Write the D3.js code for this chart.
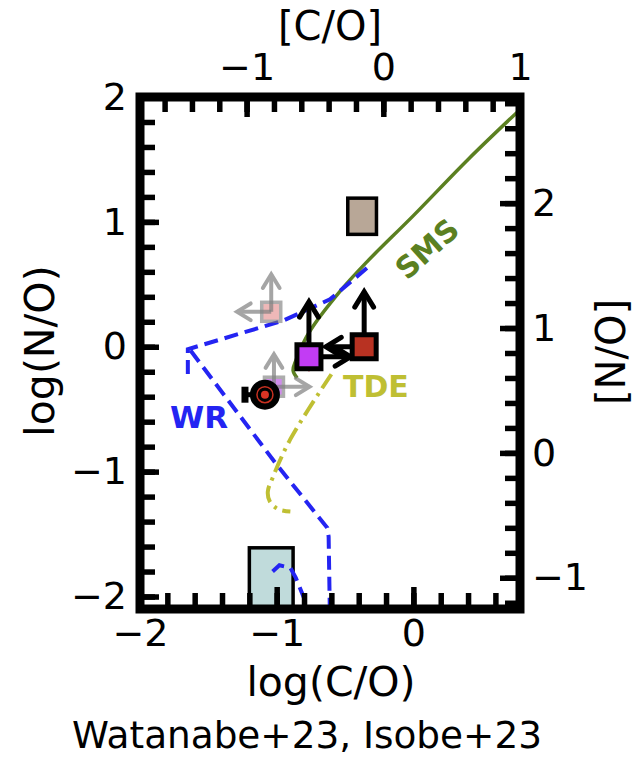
<!DOCTYPE html>
<html>
<head>
<meta charset="utf-8">
<script src="https://cdn.jsdelivr.net/npm/d3@7"></script>
<style>
  body { margin: 0; background: #fff; }
  text { font-family: "DejaVu Sans", sans-serif; }
</style>
</head>
<body>
<div id="chart"></div>
<script>
// ranges and solar offsets
const xDomain = [-2, 0.78];
const yDomain = [-2.1, 2];
const solarCO = -0.22;
const solarNO = -0.85;

const xMajor = [-2, -1, 0];
const yMajor = [-2, -1, 0, 1, 2];
const coMajor = [-1, 0, 1];
const noMajor = [-1, 0, 1, 2];

// model tracks (log C/O, log N/O)
const smsTrack = [[-0.85, -0.25], [-0.88, -0.19], [-0.86, -0.11], [-0.76, 0.12], [-0.54, 0.44], [-0.34, 0.68], [0, 1.05], [0.4, 1.5], [0.8, 1.92]];
const wrTrackA = [[-0.34, 0.63], [-0.61, 0.38], [-0.95, 0.21], [-1.65, -0.02], [-1.65, -0.23]];
const wrTrackB = [[-1.63, -0.03], [-1.01, -0.93], [-0.63, -1.45], [-0.62, -1.52], [-0.61, -2.2]];
const wrTrackC = [[-1.03, -1.80], [-0.98, -1.75], [-0.90, -1.77], [-0.86, -1.85], [-0.73, -2.2]];
const tdeTrack = [[-0.6, -0.22], [-0.9, -0.74], [-1.03, -1.05], [-1.065, -1.16], [-1.05, -1.24], [-0.99, -1.30], [-0.9, -1.32]];

// range boxes [x0, x1, y0, y1]
const tanBox = [-0.48, -0.27, 0.9, 1.19];
const tealBox = [-1.2, -0.88, -2.3, -1.61];

// points: x, y, arrow ends
const faded1 = { x: -1.04, y: 0.28, up: 0.58, left: -1.29 };
const faded2 = { x: -1.02, y: -0.32, up: -0.06, right: -0.76 };
const magenta = { x: -0.764, y: -0.08, up: 0.36, right: -0.46, errLow: -0.2 };
const red = { x: -0.36, y: 0.0, up: 0.44, left: -0.64 };
const target = { x: -1.086, y: -0.384, left: -1.232 };

const W = 636, H = 757;
const svg = d3.select('#chart').append('svg').attr('width', W).attr('height', H);
svg.append('rect').attr('width', W).attr('height', H).attr('fill', '#fff');

const x = d3.scaleLinear().domain(xDomain).range([140, 520]);
const y = d3.scaleLinear().domain(yDomain).range([609, 97]);
const xTop = d3.scaleLinear().domain(xDomain.map((d) => d - solarCO)).range([140, 520]);
const yRight = d3.scaleLinear().domain(yDomain.map((d) => d - solarNO)).range([609, 97]);

svg.append('clipPath').attr('id', 'clip')
  .append('rect').attr('x', 140).attr('y', 97).attr('width', 380).attr('height', 512);

const plot = svg.append('g').attr('clip-path', 'url(#clip)');

const box = (b, fill) =>
  plot.append('rect')
    .attr('x', x(b[0])).attr('y', y(b[3]))
    .attr('width', x(b[1]) - x(b[0])).attr('height', y(b[2]) - y(b[3]))
    .attr('fill', fill).attr('stroke', '#000').attr('stroke-width', 3.5);

box(tanBox, '#b8a797');
box(tealBox, '#c0dbdb');

const line = d3.line().x((d) => x(d[0])).y((d) => y(d[1]));
const lineC = d3.line().x((d) => x(d[0])).y((d) => y(d[1])).curve(d3.curveCatmullRom);

plot.append('path').attr('d', lineC(smsTrack)).attr('fill', 'none')
  .attr('stroke', '#5b8021').attr('stroke-width', 3.5);

[wrTrackA, wrTrackB, wrTrackC].forEach((t) =>
  plot.append('path').attr('d', line(t)).attr('fill', 'none')
    .attr('stroke', '#2424f2').attr('stroke-width', 4)
    .attr('stroke-dasharray', '14,7'));

plot.append('path').attr('d', lineC(tdeTrack)).attr('fill', 'none')
  .attr('stroke', '#bfbf33').attr('stroke-width', 4)
  .attr('stroke-dasharray', '17,6,3,6');

const arrow = (x0, y0, x1, y1, color, w, head, op) => {
  const g = plot.append('g').attr('opacity', op);
  const px0 = x(x0), py0 = y(y0), px1 = x(x1), py1 = y(y1);
  const a = Math.atan2(py1 - py0, px1 - px0);
  g.append('line').attr('x1', px0).attr('y1', py0).attr('x2', px1).attr('y2', py1)
    .attr('stroke', color).attr('stroke-width', w);
  const h1 = [px1 - head * Math.cos(a - 0.55), py1 - head * Math.sin(a - 0.55)];
  const h2 = [px1 - head * Math.cos(a + 0.55), py1 - head * Math.sin(a + 0.55)];
  g.append('path').attr('d', `M${h1}L${px1},${py1}L${h2}`).attr('fill', 'none')
    .attr('stroke', color).attr('stroke-width', w).attr('stroke-linejoin', 'miter')
    .attr('stroke-linecap', 'round');
};

const square = (p, size, fill, stroke, sw, op) =>
  plot.append('rect')
    .attr('x', x(p.x) - size / 2).attr('y', y(p.y) - size / 2)
    .attr('width', size).attr('height', size)
    .attr('fill', fill).attr('stroke', stroke).attr('stroke-width', sw).attr('opacity', op);

// faded points
square(faded1, 19, '#e48a8a', '#777', 3.5, 0.6);
arrow(faded1.x, faded1.y, faded1.x, faded1.up, '#808080', 4, 16, 0.7);
arrow(faded1.x, faded1.y, faded1.left, faded1.y, '#808080', 4, 16, 0.7);

square(faded2, 19, '#b040e0', '#777', 3.5, 0.6);
arrow(faded2.x, faded2.y, faded2.x, faded2.up, '#808080', 4, 16, 0.7);
arrow(faded2.x, faded2.y, faded2.right, faded2.y, '#808080', 4, 16, 0.7);

// target circle with error bar
plot.append('line')
  .attr('x1', x(target.left)).attr('x2', x(target.x))
  .attr('y1', y(target.y)).attr('y2', y(target.y))
  .attr('stroke', '#000').attr('stroke-width', 5);
plot.append('line')
  .attr('x1', x(target.left)).attr('x2', x(target.left))
  .attr('y1', y(target.y) - 8).attr('y2', y(target.y) + 8)
  .attr('stroke', '#000').attr('stroke-width', 7);
plot.append('circle').attr('cx', x(target.x)).attr('cy', y(target.y)).attr('r', 15).attr('fill', '#000');
plot.append('circle').attr('cx', x(target.x)).attr('cy', y(target.y)).attr('r', 8)
  .attr('fill', 'none').attr('stroke', '#c83020').attr('stroke-width', 1.5);
plot.append('circle').attr('cx', x(target.x)).attr('cy', y(target.y)).attr('r', 4).attr('fill', '#d83424');

// magenta and red points
plot.append('line')
  .attr('x1', x(magenta.x)).attr('x2', x(magenta.x))
  .attr('y1', y(magenta.y)).attr('y2', y(magenta.errLow))
  .attr('stroke', '#eaa0a8').attr('stroke-width', 1.6);
arrow(magenta.x, magenta.y, magenta.x, magenta.up, '#000', 5, 18, 1);
arrow(magenta.x, magenta.y, magenta.right, magenta.y, '#000', 5, 18, 1);
arrow(red.x, red.y, red.x, red.up, '#000', 5, 18, 1);
arrow(red.x, red.y, red.left, red.y, '#000', 5, 18, 1);
square(magenta, 24, '#c23cf4', '#000', 5, 1);
square(red, 24, '#b83222', '#000', 5, 1);

// track labels
plot.append('text').attr('transform', `translate(${x(0.1)},${y(0.784)}) rotate(-42)`)
  .attr('text-anchor', 'middle').attr('dy', '0.35em')
  .attr('font-size', 30).attr('font-weight', 'bold').attr('fill', '#5b8021').text('SMS');
plot.append('text').attr('x', x(-1.78)).attr('y', y(-0.648))
  .attr('font-size', 31).attr('font-weight', 'bold').attr('fill', '#2424f2').text('WR');
plot.append('text').attr('x', x(-0.515)).attr('y', y(-0.4))
  .attr('font-size', 30).attr('font-weight', 'bold').attr('fill', '#bfbf33').text('TDE');

// axes with inward ticks
const range = (a, b, s) => d3.range(Math.round(a / s), Math.round(b / s) + 1).map((k) => +(k * s).toFixed(2));
const fmt = d3.format('d');

const addAxis = (make, scale, tx, ty, ticks, size, pad, labels) => {
  const g = svg.append('g').attr('transform', `translate(${tx},${ty})`)
    .call(make(scale).tickValues(ticks).tickSizeInner(-size).tickSizeOuter(0)
      .tickPadding(pad).tickFormat(labels ? fmt : ''));
  g.select('.domain').remove();
  g.selectAll('.tick line').attr('stroke', '#000').attr('stroke-width', 5.5);
  g.selectAll('.tick text').attr('font-size', 38).attr('fill', '#000')
    .attr('font-family', '"DejaVu Sans", sans-serif');
  return g;
};

addAxis(d3.axisBottom, x, 0, 609, range(-2, 0.6, 0.2), 16, 10, false);
addAxis(d3.axisBottom, x, 0, 609, xMajor, 22, 10, true);
addAxis(d3.axisTop, xTop, 0, 97, range(-1.6, 0.8, 0.2), 15, 17, false);
addAxis(d3.axisTop, xTop, 0, 97, coMajor, 20, 17, true);
addAxis(d3.axisLeft, y, 140, 0, range(-2, 2, 0.2), 15, 13, false);
addAxis(d3.axisLeft, y, 140, 0, yMajor, 19, 13, true);
addAxis(d3.axisRight, yRight, 520, 0, range(-1.2, 2.8, 0.2), 15, 12, false);
addAxis(d3.axisRight, yRight, 520, 0, noMajor, 20, 12, true);

svg.append('rect').attr('x', 140).attr('y', 97).attr('width', 380).attr('height', 512)
  .attr('fill', 'none').attr('stroke', '#000').attr('stroke-width', 9);

// axis titles
svg.append('text').attr('x', 331).attr('y', 696).attr('text-anchor', 'middle')
  .attr('font-size', 41).text('log(C/O)');
svg.append('text').attr('x', 330).attr('y', 40).attr('text-anchor', 'middle')
  .attr('font-size', 40).text('[C/O]');
svg.append('text').attr('transform', 'translate(54,351) rotate(-90)').attr('text-anchor', 'middle')
  .attr('font-size', 41).text('log(N/O)');
svg.append('text').attr('transform', 'translate(625,352) rotate(-90)').attr('text-anchor', 'middle')
  .attr('font-size', 40).text('[N/O]');

const credit = svg.append('text').attr('x', 307).attr('y', 748).attr('text-anchor', 'middle')
  .attr('font-family', 'Lato, "Open Sans", sans-serif').attr('font-size', 40)
  .text('Watanabe+23, Isobe+23');
const cw = credit.node().getComputedTextLength();
credit.attr('font-size', 40 * 470 / cw);
</script>
</body>
</html>
